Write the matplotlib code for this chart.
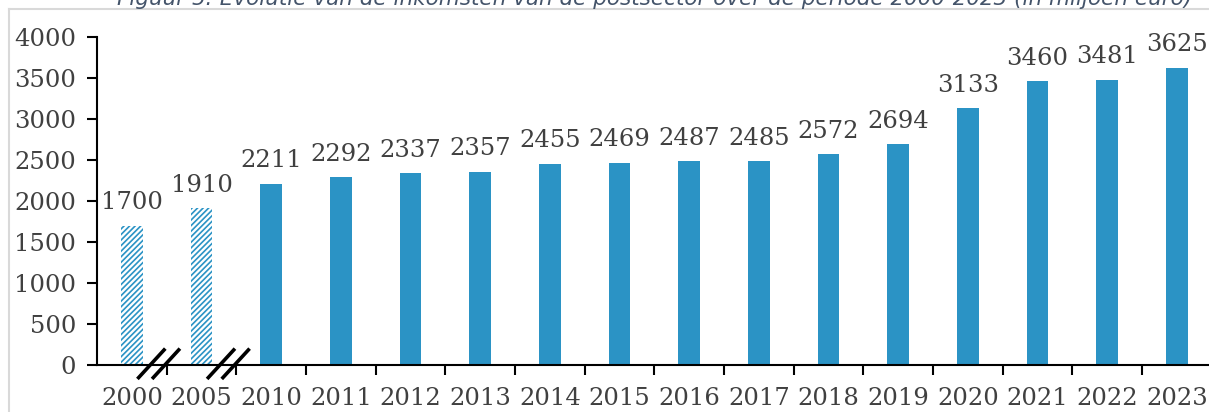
import matplotlib.pyplot as plt
import numpy as np

years = ['2000', '2005', '2010', '2011', '2012', '2013', '2014', '2015',
         '2016', '2017', '2018', '2019', '2020', '2021', '2022', '2023']
revenue = [1700, 1910, 2211, 2292, 2337, 2357, 2455, 2469,
           2487, 2485, 2572, 2694, 3133, 3460, 3481, 3625]
estimated = [True, True] + [False] * 14

blue = '#2B93C5'
txt = '#404040'
serif = 'DejaVu Serif'

plt.rcParams['hatch.linewidth'] = 1.2

fig = plt.figure(figsize=(12.09, 4.12), dpi=100)
ax = fig.add_axes([97 / 1209, 1 - 365 / 412, 1 - 97 / 1209, 328 / 412])

x = np.arange(len(years))
for xi, val, est in zip(x, revenue, estimated):
    if est:
        ax.bar(xi, val, width=0.31, color='white', edgecolor=blue,
               hatch='//////', linewidth=0)
    else:
        ax.bar(xi, val, width=0.31, color=blue)
    ax.text(xi, val + 140, str(val), ha='center', va='bottom',
            fontsize=17.5, family=serif, color=txt)

ax.set_ylim(0, 4000)
ax.set_xlim(-0.5, 15.46)
ax.set_yticks(range(0, 4001, 500))
ax.set_xticks(x)
ax.set_xticklabels(years)
ax.set_xticks(np.arange(0.5, 15, 1), minor=True)
ax.tick_params(axis='x', which='major', length=0, pad=16)
ax.tick_params(axis='x', which='minor', length=7, width=1.5, direction='out')
ax.tick_params(axis='y', length=7, width=1.5, pad=8)
for lab in ax.get_xticklabels() + ax.get_yticklabels():
    lab.set_family(serif)
    lab.set_fontsize(17.5)
    lab.set_color(txt)

for s in ['top', 'right']:
    ax.spines[s].set_visible(False)
ax.spines['left'].set_linewidth(1.5)
ax.spines['bottom'].set_linewidth(1.5)

# axis break marks between 2000-2005 and 2005-2010
for xb in [0.28, 1.28]:
    for off in [0.0, 0.21]:
        ax.plot([xb + off - 0.2, xb + off + 0.2], [-170, 200],
                color='black', lw=2.6, clip_on=False, solid_capstyle='butt')

# light frame of the figure box
fig.add_artist(plt.Line2D([9 / 1209, 9 / 1209], [0, 1 - 9 / 412],
                          color='#d9d9d9', lw=1.5))
fig.add_artist(plt.Line2D([9 / 1209, 1], [1 - 9 / 412, 1 - 9 / 412],
                          color='#d9d9d9', lw=1.5))

fig.text(655 / 1209, 1 - 5 / 412,
         'Figuur 5: Evolutie van de inkomsten van de postsector over de periode 2000-2023 (in miljoen euro)',
         ha='center', va='baseline', fontsize=15.5, style='italic', color='#44546A')

fig.savefig('out.png', dpi=100)
